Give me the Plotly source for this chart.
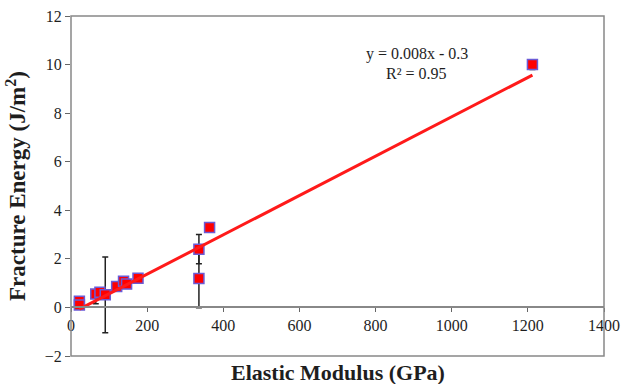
import plotly.graph_objects as go

# Data
modulus = [22, 22, 65, 76, 90, 120, 138, 146, 176, 336, 336, 364, 1212]
energy = [0.25, 0.10, 0.55, 0.62, 0.52, 0.86, 1.08, 0.96, 1.20, 2.40, 1.19, 3.29, 10.0]
err_plus = [0, 0, 0.05, 0, 1.56, 0, 0, 0, 0, 0.60, 1.20, 0, 0.20]
err_minus = [0, 0, 0.40, 0, 1.56, 0, 0, 0, 0, 0.60, 1.20, 0, 0.20]

trend_x = [22, 1212]
trend_slope = 0.0081
trend_intercept = -0.25
trend_y = [trend_slope * v + trend_intercept for v in trend_x]

x_ticks = [0, 200, 400, 600, 800, 1000, 1200, 1400]
y_ticks = [-2, 0, 2, 4, 6, 8, 10, 12]

serif = "Liberation Serif, Times New Roman, serif"
ink = "#1e1e1e"

fig = go.Figure()
fig.add_trace(go.Scatter(
    x=modulus, y=energy, mode="markers",
    marker=dict(symbol="square", size=10, color="#ff0000",
                line=dict(color="#6b5bd6", width=1.5)),
    error_y=dict(type="data", array=err_plus, arrayminus=err_minus,
                 symmetric=False, visible=True, color="#222222",
                 thickness=1.5, width=3),
    showlegend=False, hoverinfo="skip",
))
fig.add_trace(go.Scatter(
    x=trend_x, y=trend_y, mode="lines",
    line=dict(color="#ff1a1a", width=3), showlegend=False, hoverinfo="skip",
))

fig.update_layout(
    width=632, height=384,
    margin=dict(l=71, r=19, t=16, b=28),
    paper_bgcolor="white", plot_bgcolor="white",
    font=dict(family=serif, size=16, color=ink),
    xaxis=dict(range=[0, 1400], tickvals=x_ticks, ticks="outside", ticklen=4,
               tickcolor="#666666", showgrid=False, zeroline=False,
               showline=True, linecolor="#888888", linewidth=1.5,
               anchor="free", position=2 / 14,
               tickfont=dict(family=serif, size=16, color=ink)),
    yaxis=dict(range=[-2, 12], tickvals=y_ticks, ticks="outside", ticklen=5,
               tickcolor="#666666", showgrid=False, zeroline=False,
               showline=False, automargin=False,
               tickfont=dict(family=serif, size=16, color=ink),
               title=dict(text="<b>Fracture Energy (J/m<sup>2</sup>)</b>",
                          font=dict(family=serif, size=23, color=ink),
                          standoff=12)),
    shapes=[dict(type="rect", xref="paper", yref="paper", x0=0, y0=0, x1=1, y1=1,
                 line=dict(color="#888888", width=1.5))],
    annotations=[
        dict(text="<b>Elastic Modulus (GPa)</b>", xref="paper", yref="paper",
             x=0.5, y=0, yshift=-16, showarrow=False, yanchor="middle",
             font=dict(family=serif, size=22, color=ink)),
        dict(text="y = 0.008x - 0.3", xref="paper", yref="paper",
             x=0.649, y=0.888, xanchor="center", yanchor="middle",
             showarrow=False, font=dict(family=serif, size=16, color=ink)),
        dict(text="R² = 0.95", xref="paper", yref="paper",
             x=0.649, y=0.832, xanchor="center", yanchor="middle",
             showarrow=False, font=dict(family=serif, size=16, color=ink)),
    ],
)

fig.write_html("out.html", config={"displayModeBar": False},
               post_script="document.body.style.margin='0';")
